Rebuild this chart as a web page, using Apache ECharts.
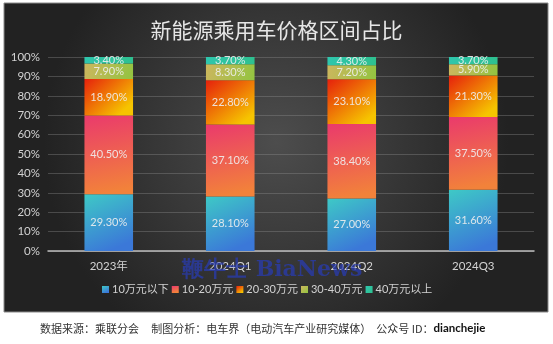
<!DOCTYPE html>
<html>
<head>
<meta charset="utf-8">
<script src="https://cdn.jsdelivr.net/npm/echarts@6/dist/echarts.min.js"></script>
<style>
html,body{margin:0;padding:0;background:#fff;}
#chart{width:553px;height:344px;}
</style>
</head>
<body>
<div id="chart"></div>
<script>
// Price-band share of new-energy passenger car sales (%)
const categories = ['2023年', '2024Q1', '2024Q2', '2024Q3'];
const seriesNames = ['10万元以下', '10-20万元', '20-30万元', '30-40万元', '40万元以上'];
const below10 = [29.3, 28.1, 27.0, 31.6];
const from10to20 = [40.5, 37.1, 38.4, 37.5];
const from20to30 = [18.9, 22.8, 23.1, 21.3];
const from30to40 = [7.9, 8.3, 7.2, 5.9];
const above40 = [3.4, 3.7, 4.3, 3.7];
const yTicks = [0, 10, 20, 30, 40, 50, 60, 70, 80, 90, 100];

const FONT = "Lato, 'Noto Sans CJK SC', sans-serif";

function grad(x2, y2, c1, c2) {
  return { type: 'linear', x: 0, y: 0, x2: x2, y2: y2,
    colorStops: [{ offset: 0, color: c1 }, { offset: 1, color: c2 }] };
}

const fills = [
  grad(0.5, 1, '#3ec9c6', '#3b78d8'),
  grad(0.3, 1, '#ea3a6c', '#f2823a'),
  grad(0.7, 1, '#e6200c', '#f6c400'),
  grad(1, 1, '#cdb65e', '#92c440'),
  grad(1, 1, '#2fc6ad', '#2ec08f')
];
const dataSets = [below10, from10to20, from20to30, from30to40, above40];

const series = seriesNames.map((name, i) => ({
  name: name,
  type: 'bar',
  stack: 'share',
  barWidth: '40%',
  data: dataSets[i],
  itemStyle: { color: fills[i] },
  label: {
    show: true,
    position: 'inside',
    color: 'rgba(238,238,238,0.9)',
    fontSize: 11,
    fontFamily: FONT,
    formatter: p => p.value.toFixed(2) + '%'
  }
}));

const chart = echarts.init(document.getElementById('chart'), null, { renderer: 'canvas' });
chart.setOption({
  backgroundColor: '#ffffff',
  animation: false,
  graphic: [
    {
      type: 'rect', z: -10, silent: true,
      shape: { x: 4, y: 3, width: 544, height: 309 },
      style: {
        fill: { type: 'radial', x: 0.5, y: 0.45, r: 0.75,
          colorStops: [{ offset: 0, color: '#4d4d4d' }, { offset: 1, color: '#222222' }] },
        stroke: '#8a8a8a', lineWidth: 1
      }
    },
    {
      type: 'text', left: 40, top: 323, silent: true,
      style: {
        text: '数据来源：乘联分会     制图分析：电车界（电动汽车产业研究媒体）  公众号 ID：{b|dianchejie}',
        fill: '#333', fontSize: 11, fontFamily: "'Noto Sans CJK SC', sans-serif",
        rich: { b: { fontWeight: 'bold', fontSize: 11.5, fill: '#111', fontFamily: FONT } }
      }
    },
    {
      type: 'text', left: 182, top: 259, silent: true, z: 100,
      style: {
        text: '鞭牛士 BiaNews',
        fill: 'rgba(40,60,180,0.72)', fontSize: 22, fontWeight: 'bold',
        fontFamily: "'DejaVu Serif', 'Liberation Serif', serif"
      }
    }
  ],
  title: {
    text: '新能源乘用车价格区间占比',
    left: 'center', top: 15,
    textStyle: { color: '#e6e6e6', fontSize: 21, fontWeight: 'normal',
      fontFamily: "'Noto Sans CJK SC', sans-serif" }
  },
  legend: {
    data: seriesNames,
    bottom: 44,
    left: 97,
    itemWidth: 7, itemHeight: 7, itemGap: 3,
    icon: 'rect',
    textStyle: { color: '#d2d2d2', fontSize: 11, fontFamily: FONT, padding: [0, 0, 0, -2] }
  },
  grid: { left: 48, right: 19, top: 57, bottom: 93 },
  xAxis: {
    type: 'category',
    data: categories,
    axisLine: { lineStyle: { color: '#bdbdbd', width: 1.5 } },
    axisTick: { show: false },
    axisLabel: { color: '#d2d2d2', fontSize: 11.5, fontFamily: FONT, margin: 10 }
  },
  yAxis: {
    type: 'value',
    min: yTicks[0], max: yTicks[yTicks.length - 1], interval: 10,
    axisLine: { show: false },
    axisTick: { show: false },
    splitLine: { lineStyle: { color: 'rgba(150,150,150,0.35)', width: 1 } },
    axisLabel: { color: '#d2d2d2', fontSize: 11.5, fontFamily: FONT, margin: 8,
      formatter: '{value}%' }
  },
  series: series
});
</script>
</body>
</html>
